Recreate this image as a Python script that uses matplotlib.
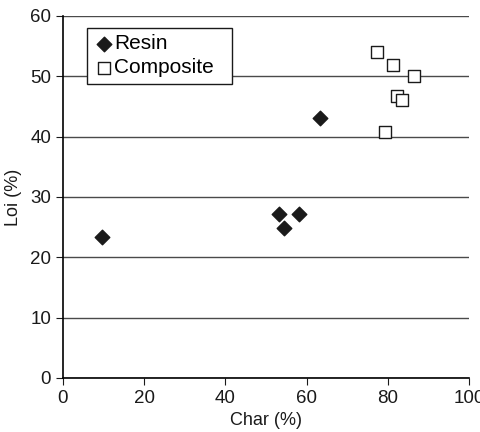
import matplotlib
matplotlib.use('Agg')
import matplotlib.pyplot as plt

plt.rcParams['font.family'] = ['Liberation Sans', 'DejaVu Sans']

# valores
resin_char = [9.6, 53.2, 54.4, 58.1, 63.3]
resin_loi = [23.3, 27.2, 24.9, 27.2, 43.1]
comp_char = [77.3, 81.4, 86.5, 82.4, 83.4, 79.3]
comp_loi = [54.0, 51.9, 50.0, 46.8, 46.1, 40.7]

fig = plt.figure(figsize=(4.8, 4.32), dpi=100)
ax = fig.add_axes([0.131, 0.125, 0.846, 0.838])

ax.set_xlim(0, 100)
ax.set_ylim(0, 60)
ax.set_yticks(range(0, 61, 10))
ax.set_xticks(range(0, 101, 20))
ax.yaxis.grid(True, color='#4a4a4a', linewidth=1.0)
ax.set_axisbelow(True)

ax.scatter(resin_char, resin_loi, marker='D', s=55, color='#1a1a1a',
           edgecolors='#1a1a1a', label='Resin', zorder=3)
ax.scatter(comp_char, comp_loi, marker='s', s=75, facecolors='white',
           edgecolors='#1a1a1a', linewidths=1.0, label='Composite', zorder=3)

for side in ['top', 'right']:
    ax.spines[side].set_visible(False)
ax.spines['left'].set_linewidth(1.2)
ax.spines['bottom'].set_linewidth(1.2)
ax.tick_params(direction='out', length=5, labelsize=13.5, colors='#1a1a1a')

ax.set_xlabel('Char (%)', fontsize=13, labelpad=4, color='#1a1a1a')
ax.set_ylabel('Loi (%)', fontsize=13, labelpad=6, color='#1a1a1a')

# legenda com largura fixa (mode expand) para ficar igual à original
leg = ax.legend(loc='upper left', bbox_to_anchor=(0.059, 0.767, 0.357, 0.2),
                mode='expand', fontsize=15, frameon=True, fancybox=False,
                handletextpad=0.0, handlelength=1.0, borderpad=0.3,
                labelspacing=0.25, borderaxespad=0, scatterpoints=1)
leg.get_frame().set_edgecolor('#1a1a1a')
leg.get_frame().set_linewidth(1.0)
leg.get_frame().set_alpha(1)

fig.savefig('out.png', dpi=100)
